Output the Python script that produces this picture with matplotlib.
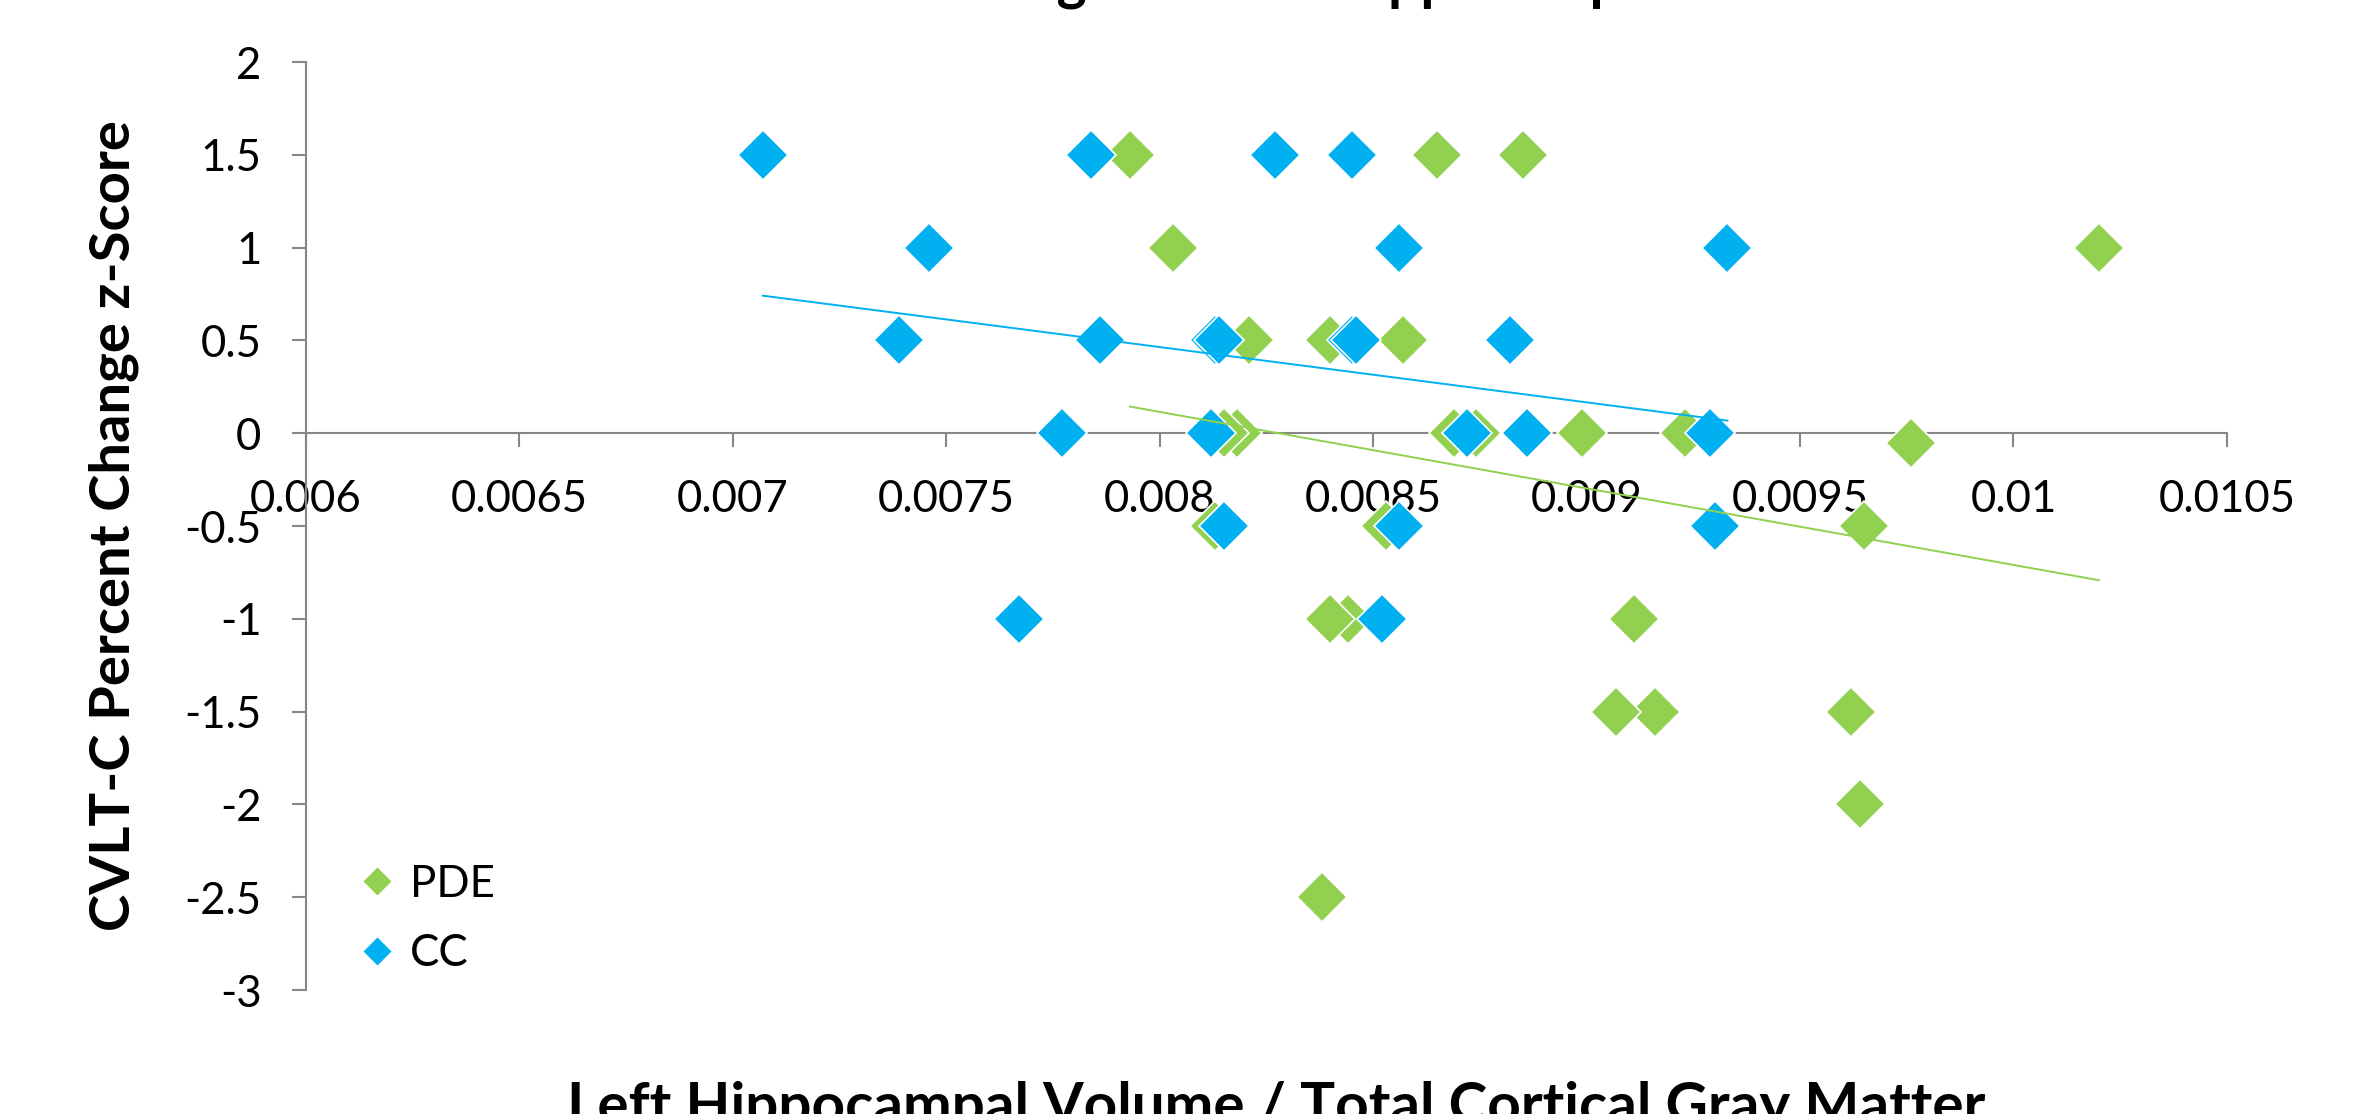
import numpy as np
import matplotlib
matplotlib.use('Agg')
import matplotlib.pyplot as plt
from matplotlib.lines import Line2D

plt.rcParams['font.family'] = ['Lato', 'DejaVu Sans']

# values
pde_x = [0.00793, 0.00865, 0.00885,
         0.00803, 0.01020,
         0.00821, 0.00840, 0.00857,
         0.00818, 0.00815, 0.00874, 0.00869, 0.00899, 0.00923,
         0.00976,
         0.00813, 0.00853, 0.00965,
         0.00844, 0.00840, 0.00911,
         0.00916, 0.00907, 0.00962,
         0.00964,
         0.00838]
pde_y = [1.5, 1.5, 1.5,
         1, 1,
         0.5, 0.5, 0.5,
         0, 0, 0, 0, 0, 0,
         -0.05,
         -0.5, -0.5, -0.5,
         -1, -1, -1,
         -1.5, -1.5, -1.5,
         -2,
         -2.5]

cc_x = [0.00707, 0.00784, 0.00827, 0.00845,
        0.00746, 0.00856, 0.00933,
        0.00739, 0.00786, 0.00813, 0.00814, 0.00845, 0.00846, 0.00882,
        0.00777, 0.00812, 0.00872, 0.00886, 0.00929,
        0.00815, 0.00856, 0.00930,
        0.00767, 0.00852]
cc_y = [1.5, 1.5, 1.5, 1.5,
        1, 1, 1,
        0.5, 0.5, 0.5, 0.5, 0.5, 0.5, 0.5,
        0, 0, 0, 0, 0,
        -0.5, -0.5, -0.5,
        -1, -1]

series_names = ['PDE', 'CC']
x_ticks = [0.006, 0.0065, 0.007, 0.0075, 0.008, 0.0085, 0.009, 0.0095, 0.01, 0.0105]
x_labels = ['0.006', '0.0065', '0.007', '0.0075', '0.008', '0.0085', '0.009', '0.0095', '0.01', '0.0105']
y_ticks = [2, 1.5, 1, 0.5, 0, -0.5, -1, -1.5, -2, -2.5, -3]
y_labels = ['2', '1.5', '1', '0.5', '0', '-0.5', '-1', '-1.5', '-2', '-2.5', '-3']

title = 'CVLT-C Percent Change vs. Left Hippocampal Volume'
xlabel = 'Left Hippocampal Volume / Total Cortical Gray Matter'
ylabel = 'CVLT-C Percent Change z-Score'

green = '#92D050'
blue = '#00B0F0'
grey = '#868686'

fig = plt.figure(figsize=(23.63, 11.14), dpi=100)
ax = fig.add_axes([0.1295, 0.1113, 0.8129, 0.8330])

ax.plot(pde_x, pde_y, 'D', ms=25, color=green, mec='white', mew=1.2, zorder=3)
ax.plot(cc_x, cc_y, 'D', ms=25, color=blue, mec='white', mew=1.2, zorder=4)

# linear trendlines
for xs, ys, c in [(pde_x, pde_y, green), (cc_x, cc_y, blue)]:
    k, b = np.polyfit(xs, ys, 1)
    xx = np.array([min(xs), max(xs)])
    ax.plot(xx, k * xx + b, '-', color=c, lw=1.4, zorder=5)

ax.set_xlim(0.006, 0.0105)
ax.set_ylim(-3, 2)
ax.spines['top'].set_visible(False)
ax.spines['right'].set_visible(False)
ax.spines['bottom'].set_position(('data', 0))
for s in ['left', 'bottom']:
    ax.spines[s].set_color(grey)
    ax.spines[s].set_linewidth(1.5)

ax.set_xticks(x_ticks)
ax.set_xticklabels(x_labels)
ax.set_yticks(y_ticks)
ax.set_yticklabels(y_labels)
ax.tick_params(axis='both', direction='out', length=10, width=1.5, color=grey,
               labelsize=31.5, labelcolor='black')
ax.tick_params(axis='x', pad=23)
ax.tick_params(axis='y', pad=22)

# title and x label sit partly outside the canvas, as in the reference
fig.text(0.5025, 1 + 1 / 1114, title, ha='center', va='baseline',
         fontsize=41, fontweight='bold')
fig.text(0.540, -10 / 1114, xlabel, ha='center', va='baseline',
         fontsize=42, fontweight='bold')
fig.text(0.048, 0.5285, ylabel, ha='center', va='center', rotation=90,
         fontsize=40.5, fontweight='bold')

handles = [Line2D([], [], ls='none', marker='D', ms=14, color=green, mec='none'),
           Line2D([], [], ls='none', marker='D', ms=14, color=blue, mec='none')]
fig.legend(handles, series_names, loc='center left',
           bbox_to_anchor=(360 / 2363, 1 - 919 / 1114), frameon=False,
           fontsize=31.5, handlelength=0.8, handletextpad=0.35,
           labelspacing=0.65, borderpad=0, borderaxespad=0)

fig.savefig('out.png', dpi=100)
